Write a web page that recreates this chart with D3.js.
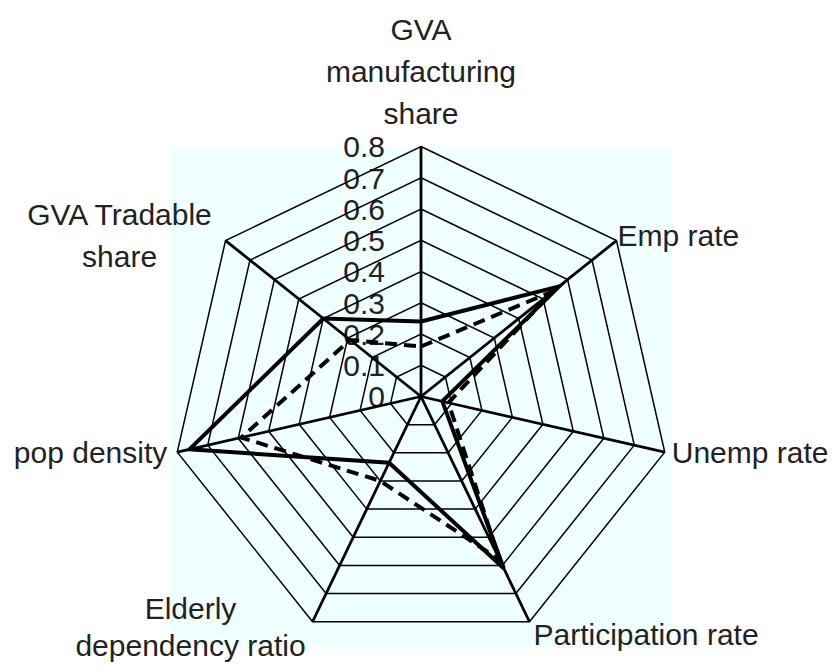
<!DOCTYPE html>
<html>
<head>
<meta charset="utf-8">
<script src="https://cdn.jsdelivr.net/npm/d3@7"></script>
<style>
  html, body { margin: 0; padding: 0; background: #ffffff; }
  svg { display: block; }
  text { font-family: "Liberation Sans", Arial, sans-serif; fill: #222; }
</style>
</head>
<body>
<svg id="chart" width="836" height="670"></svg>
<script>
// ---- data ----
const categories = [
  "GVA manufacturing share",
  "Emp rate",
  "Unemp rate",
  "Participation rate",
  "Elderly dependency ratio",
  "pop density",
  "GVA Tradable share"
];
const categoryLines = [
  ["GVA", "manufacturing", "share"],
  ["Emp rate"],
  ["Unemp rate"],
  ["Participation rate"],
  ["Elderly", "dependency ratio"],
  ["pop density"],
  ["GVA Tradable", "share"]
];
const seriesSolid  = [0.24, 0.565, 0.07, 0.61, 0.235, 0.76, 0.40];
const seriesDashed = [0.16, 0.54, 0.09, 0.58, 0.30, 0.59, 0.29];
const tickValues = [0, 0.1, 0.2, 0.3, 0.4, 0.5, 0.6, 0.7, 0.8];
const tickLabels = ["0", "0.1", "0.2", "0.3", "0.4", "0.5", "0.6", "0.7", "0.8"];

// ---- layout ----
const svg = d3.select("#chart");
const cx = 421, cy = 396.5, R = 250;
const n = categories.length;
const r = d3.scaleLinear().domain([0, 0.8]).range([0, R]);
const angle = d3.scaleLinear().domain([0, n]).range([0, 2 * Math.PI]);
const pt = (i, v) => {
  const a = angle(i);
  return [cx + r(v) * Math.sin(a), cy - r(v) * Math.cos(a)];
};

// plot area background
svg.append("rect")
  .attr("x", 170).attr("y", 147)
  .attr("width", 502).attr("height", 501)
  .attr("fill", "#f0ffff");

// tick labels along top axis
svg.append("g").selectAll("text")
  .data(tickValues)
  .join("text")
  .attr("x", cx - 36)
  .attr("y", d => cy - r(d))
  .attr("dy", "0.36em")
  .attr("text-anchor", "end")
  .attr("font-size", 30)
  .text((d, i) => tickLabels[i]);

// rings
const ringLine = d3.line();
svg.append("g").selectAll("path")
  .data(tickValues.filter(d => d > 0))
  .join("path")
  .attr("d", d => ringLine(d3.range(n).map(i => pt(i, d))) + "Z")
  .attr("fill", "none")
  .attr("stroke", "#000")
  .attr("stroke-width", 1.5);

// spokes
svg.append("g").selectAll("line")
  .data(d3.range(n))
  .join("line")
  .attr("x1", cx).attr("y1", cy)
  .attr("x2", i => pt(i, 0.8)[0])
  .attr("y2", i => pt(i, 0.8)[1])
  .attr("stroke", "#000")
  .attr("stroke-width", 2.8);

// series
const seriesLine = d3.line();
function drawSeries(vals, dash) {
  svg.append("path")
    .attr("d", seriesLine(vals.map((v, i) => pt(i, v))) + "Z")
    .attr("fill", "none")
    .attr("stroke", "#000")
    .attr("stroke-width", 4)
    .attr("stroke-linejoin", "miter")
    .attr("stroke-dasharray", dash);
}
drawSeries(seriesDashed, "12,7");
drawSeries(seriesSolid, null);

// category labels
const labelCfg = [
  { anchor: "middle", dx: 0,    dy: -107, lh: 42 },
  { anchor: "start",  dx: 1,    dy: 5,    lh: 42 },
  { anchor: "start",  dx: 7,    dy: 11,   lh: 42 },
  { anchor: "start",  dx: 4,    dy: 23,   lh: 42 },
  { anchor: "middle", dx: -122, dy: -3,   lh: 37 },
  { anchor: "end",    dx: -10,  dy: 11,   lh: 42 },
  { anchor: "middle", dx: -106, dy: -16,  lh: 42 }
];
categoryLines.forEach((lines, i) => {
  const [vx, vy] = pt(i, 0.8);
  const c = labelCfg[i];
  const t = svg.append("text")
    .attr("text-anchor", c.anchor)
    .attr("font-size", 30);
  lines.forEach((ln, k) => {
    t.append("tspan")
      .attr("x", vx + c.dx)
      .attr("y", vy + c.dy + k * c.lh)
      .text(ln);
  });
});
</script>
</body>
</html>
